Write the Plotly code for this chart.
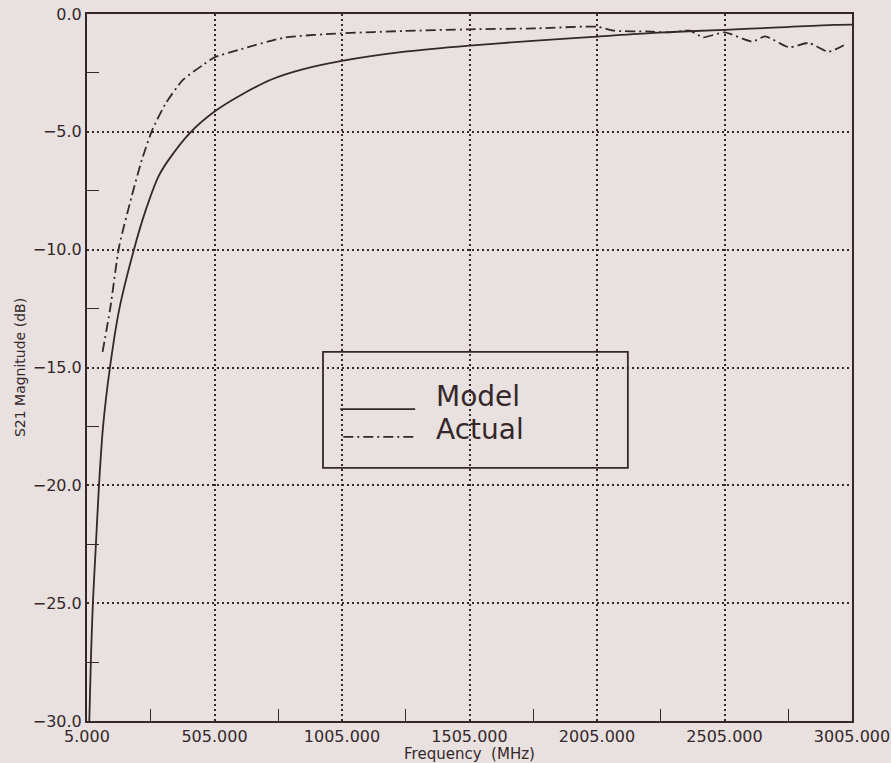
import plotly.graph_objects as go

# ---- data ----
model_freq = [14, 20, 28, 40, 52, 68, 95, 132, 189, 231, 285, 325, 410, 505, 597,
              728, 850, 1005, 1251, 1505, 1767, 2005, 2226, 2505, 2718, 2935, 3005]
model_db = [-30.0, -27.5, -25.0, -22.5, -20.0, -17.5, -15.0, -12.5, -10.0, -8.46, -6.90,
            -6.19, -5.03, -4.14, -3.51, -2.78, -2.35, -1.99, -1.60, -1.34, -1.13, -0.96,
            -0.80, -0.67, -0.57, -0.46, -0.45]

actual_freq = [66, 96, 131, 180, 220, 261, 314, 381, 460, 505, 597, 781, 1005, 1251, 1505,
               1767, 2005, 2071, 2199, 2292, 2370, 2420, 2505, 2614, 2665, 2758, 2835,
               2913, 2983]
actual_db = [-14.34, -12.5, -9.87, -7.75, -6.19, -4.92, -3.79, -2.80, -2.16, -1.84, -1.53,
             -1.00, -0.82, -0.72, -0.65, -0.61, -0.54, -0.71, -0.74, -0.78, -0.71, -0.99,
             -0.78, -1.17, -0.95, -1.41, -1.23, -1.60, -1.27]

x_tickvals = [5, 505, 1005, 1505, 2005, 2505, 3005]
x_ticktext = ["5.000", "505.000", "1005.000", "1505.000", "2005.000", "2505.000", "3005.000"]
x_minor = [255, 755, 1255, 1755, 2255, 2755]
y_tickvals = [0, -5, -10, -15, -20, -25, -30]
y_minor = [-2.5, -7.5, -12.5, -17.5, -22.5, -27.5]

series_names = ["Model", "Actual"]

INK = "#35272a"
PAPER = "#e8e1e0"
FONT = "DejaVu Sans"
DASHDOT = "10px,4px,2px,4px"

fig = go.Figure()
fig.add_trace(go.Scatter(x=model_freq, y=model_db, mode="lines", name=series_names[0],
                         line=dict(color=INK, width=1.8, shape="spline", smoothing=0.8),
                         showlegend=False))
fig.add_trace(go.Scatter(x=actual_freq, y=actual_db, mode="lines", name=series_names[1],
                         line=dict(color=INK, width=1.8, dash=DASHDOT, shape="spline",
                                   smoothing=0.6),
                         showlegend=False))

axis_common = dict(showline=True, linecolor=INK, linewidth=2, mirror=True,
                   showgrid=True, gridcolor=INK, gridwidth=1.5, griddash="2px,3px",
                   zeroline=False, ticks="", automargin=False,
                   tickfont=dict(family=FONT, size=16, color=INK))

fig.update_xaxes(range=[5, 3005], tickmode="array", tickvals=x_tickvals, ticktext=x_ticktext,
                 title=dict(text="Frequency  (MHz)", font=dict(family=FONT, size=15, color=INK),
                            standoff=2),
                 minor=dict(tickmode="array", tickvals=x_minor, ticks="inside", ticklen=12,
                            tickwidth=1.2, tickcolor=INK, showgrid=False),
                 **axis_common)
fig.update_yaxes(range=[-30, 0], tickmode="array", tickvals=y_tickvals, tickformat=".1f",
                 title=dict(text="S21 Magnitude (dB)", font=dict(family=FONT, size=14, color=INK),
                            standoff=4),
                 minor=dict(tickmode="array", tickvals=y_minor, ticks="inside", ticklen=12,
                            tickwidth=1.2, tickcolor=INK, showgrid=False),
                 **axis_common)

# custom legend box (paper coordinates)
fig.add_shape(type="rect", xref="paper", yref="paper", x0=0.3085, x1=0.707, y0=0.358, y1=0.522,
              line=dict(color=INK, width=1.8), fillcolor="rgba(0,0,0,0)")
fig.add_shape(type="line", xref="paper", yref="paper", x0=0.331, x1=0.429, y0=0.441, y1=0.441,
              line=dict(color=INK, width=1.8))
fig.add_shape(type="line", xref="paper", yref="paper", x0=0.335, x1=0.431, y0=0.402, y1=0.402,
              line=dict(color=INK, width=1.8, dash=DASHDOT))
fig.add_annotation(xref="paper", yref="paper", x=0.453, y=0.459, text=series_names[0],
                   showarrow=False, xanchor="left", yanchor="middle",
                   font=dict(family=FONT, size=28, color=INK))
fig.add_annotation(xref="paper", yref="paper", x=0.453, y=0.412, text=series_names[1],
                   showarrow=False, xanchor="left", yanchor="middle",
                   font=dict(family=FONT, size=28, color=INK))

fig.update_layout(width=891, height=763, paper_bgcolor=PAPER, plot_bgcolor=PAPER,
                  margin=dict(l=87, r=39, t=14, b=42), showlegend=False)

fig.write_html("out.html", config={"displayModeBar": False},
               post_script="document.body.style.margin='0';"
                           "document.body.style.background='" + PAPER + "';")
